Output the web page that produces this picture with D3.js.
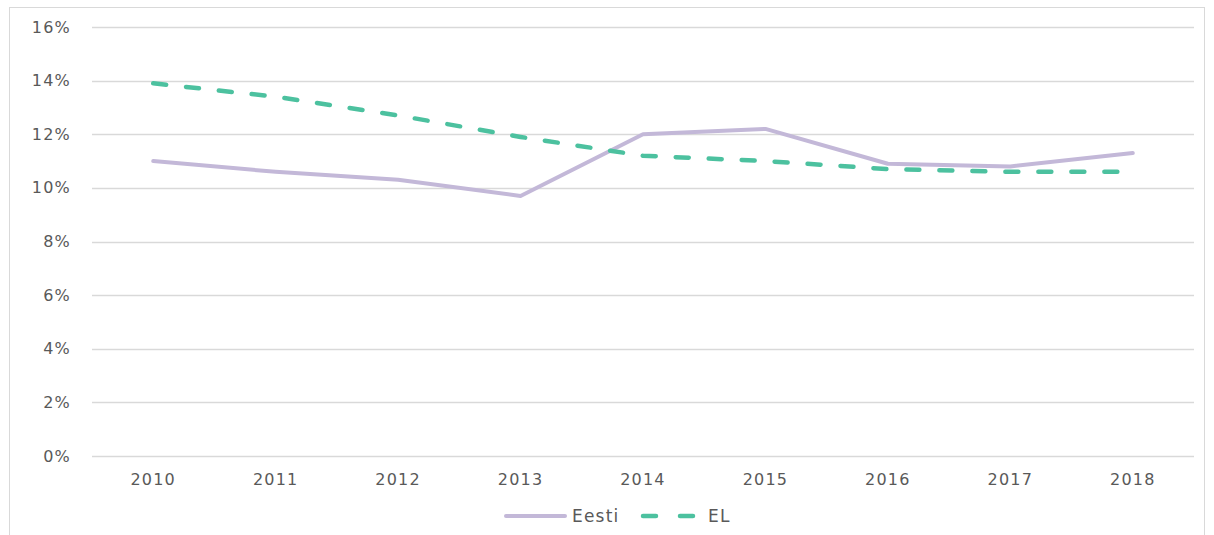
<!DOCTYPE html>
<html>
<head>
<meta charset="utf-8">
<script src="https://cdn.jsdelivr.net/npm/d3@7"></script>
<style>
  body { margin: 0; background: #fff; }
  text { font-family: "DejaVu Sans", Verdana, sans-serif; fill: #595959; letter-spacing: 1.2px; }
</style>
</head>
<body>
<svg id="chart" width="1214" height="535"></svg>
<script>
var years = ['2010', '2011', '2012', '2013', '2014', '2015', '2016', '2017', '2018'];
var eesti = [11.0, 10.6, 10.3, 9.7, 12.0, 12.2, 10.9, 10.8, 11.3];
var el = [13.9, 13.4, 12.7, 11.9, 11.2, 11.0, 10.7, 10.6, 10.6];
var yTicks = [0, 2, 4, 6, 8, 10, 12, 14, 16];

var svg = d3.select('#chart');
var margin = { top: 27, right: 20, bottom: 79, left: 92 };
var width = 1194 - margin.left;
var height = 456 - margin.top;

// outer frame
svg.append('rect')
  .attr('x', 9.5).attr('y', 7.5)
  .attr('width', 1195).attr('height', 535)
  .attr('fill', 'none').attr('stroke', '#d9d9d9').attr('stroke-width', 1);

var g = svg.append('g').attr('transform', 'translate(' + margin.left + ',' + margin.top + ')');

var x = d3.scalePoint().domain(years).range([0, width]).padding(0.5);
var y = d3.scaleLinear().domain([0, 16]).range([height, 0]);

// gridlines
g.selectAll('.grid').data(yTicks).enter().append('line')
  .attr('x1', 0).attr('x2', width)
  .attr('y1', function(d) { return Math.round(y(d)) + 0.5; })
  .attr('y2', function(d) { return Math.round(y(d)) + 0.5; })
  .attr('stroke', '#d9d9d9').attr('stroke-width', 1.3);

// y labels
g.selectAll('.ylab').data(yTicks).enter().append('text')
  .attr('x', -21).attr('y', function(d) { return y(d); })
  .attr('dy', '0.35em')
  .attr('text-anchor', 'end')
  .style('font-size', '16px')
  .text(function(d) { return d + '%'; });

// x labels
g.selectAll('.xlab').data(years).enter().append('text')
  .attr('x', function(d) { return x(d); })
  .attr('y', height + 29)
  .attr('text-anchor', 'middle')
  .style('font-size', '16px')
  .text(function(d) { return d; });

var line = d3.line()
  .x(function(d, i) { return x(years[i]); })
  .y(function(d) { return y(d); });

g.append('path').datum(eesti)
  .attr('d', line)
  .attr('fill', 'none')
  .attr('stroke', '#c3b8d8')
  .attr('stroke-width', 4)
  .attr('stroke-linecap', 'round')
  .attr('stroke-linejoin', 'round');

g.append('path').datum(el)
  .attr('d', line)
  .attr('fill', 'none')
  .attr('stroke', '#4cc19f')
  .attr('stroke-width', 4.5)
  .attr('stroke-dasharray', '13,20')
  .attr('stroke-linecap', 'round');

// legend
var leg = svg.append('g').attr('transform', 'translate(0,516)');
leg.append('line').attr('x1', 506).attr('x2', 565).attr('y1', 0).attr('y2', 0)
  .attr('stroke', '#c3b8d8').attr('stroke-width', 4).attr('stroke-linecap', 'round');
leg.append('text').attr('x', 572).attr('y', 0).attr('dy', '0.35em')
  .style('font-size', '17px').text('Eesti');
leg.append('line').attr('x1', 643).attr('x2', 700).attr('y1', 0).attr('y2', 0)
  .attr('stroke', '#4cc19f').attr('stroke-width', 4.5)
  .attr('stroke-dasharray', '13,24').attr('stroke-linecap', 'round');
leg.append('text').attr('x', 708).attr('y', 0).attr('dy', '0.35em')
  .style('font-size', '17px').text('EL');
</script>
</body>
</html>
